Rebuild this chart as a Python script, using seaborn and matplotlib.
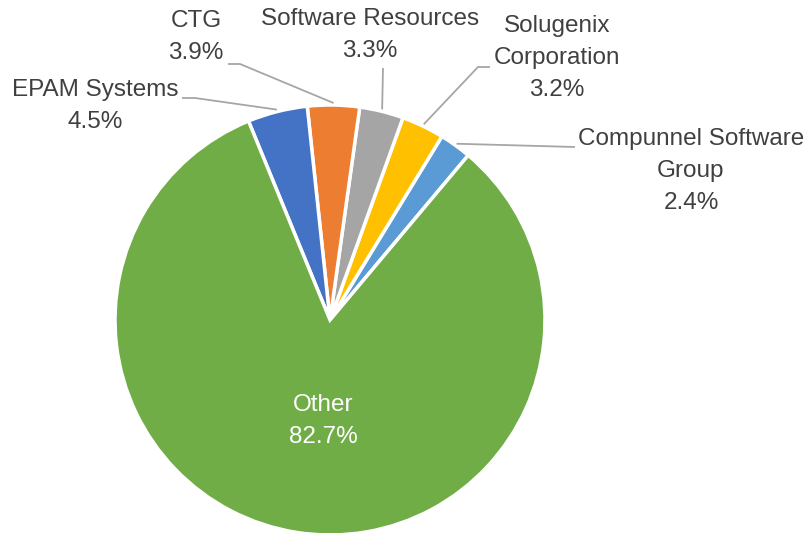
import numpy as np
import matplotlib
matplotlib.use("Agg")
import matplotlib.pyplot as plt
import seaborn as sns

# data
companies = ["Compunnel Software\nGroup", "Solugenix\nCorporation", "Software Resources",
             "CTG", "EPAM Systems", "Other"]
shares = [2.4, 3.2, 3.3, 3.9, 4.5, 82.7]
colors = ["#5B9BD5", "#FFC000", "#A5A5A5", "#ED7D31", "#4472C4", "#70AD47"]

sns.set_theme(style="white")
plt.rcParams["font.family"] = ["Liberation Sans Narrow", "Liberation Sans", "DejaVu Sans"]

W, H = 809, 533
fig = plt.figure(figsize=(W / 100, H / 100), dpi=100)
ax = fig.add_axes([0, 0, 1, 1])

cx, cy, r = 330, H - 320, 215
start = 50
ax.pie(shares, colors=colors, startangle=start, counterclock=True,
       center=(cx, cy), radius=r,
       wedgeprops=dict(edgecolor="white", linewidth=2.5))
ax.set_xlim(0, W)
ax.set_ylim(0, H)
ax.set_aspect("equal")
ax.axis("off")

# label layout (pixel coords from top): text centre, leader start, leader elbow
layout = {
    "Compunnel Software\nGroup": ((691, 171), (575, 147), (575, 147)),
    "Solugenix\nCorporation": ((557, 58), (490, 67), (478, 67)),
    "Software Resources": ((370, 35), (383, 68), (383, 68)),
    "CTG": ((196, 37), (228, 64), (240, 64)),
    "EPAM Systems": ((95, 106), (182, 98), (195, 98)),
}

txt = "#404040"
line_c = "#A6A6A6"
fs = 17.5
ls = 1.6

mids = np.cumsum([0] + shares[:-1]) + np.array(shares) / 2
for name, val, mid in zip(companies, shares, mids):
    label = f"{name}\n{val:.1f}%"
    if name == "Other":
        ax.text(323, H - 421, label, color="white", fontsize=fs,
                ha="center", va="center", linespacing=ls)
        continue
    (tx, ty), (sx, sy), (ex, ey) = layout[name]
    ang = np.deg2rad(start + mid / 100 * 360)
    px = cx + (r + 2) * np.cos(ang)
    py = cy + (r + 2) * np.sin(ang)
    ax.plot([sx, ex, px], [H - sy, H - ey, py], color=line_c, lw=1.3,
            solid_capstyle="butt")
    ax.text(tx, H - ty, label, color=txt, fontsize=fs,
            ha="center", va="center", linespacing=ls)

plt.savefig("out.png", dpi=100)
